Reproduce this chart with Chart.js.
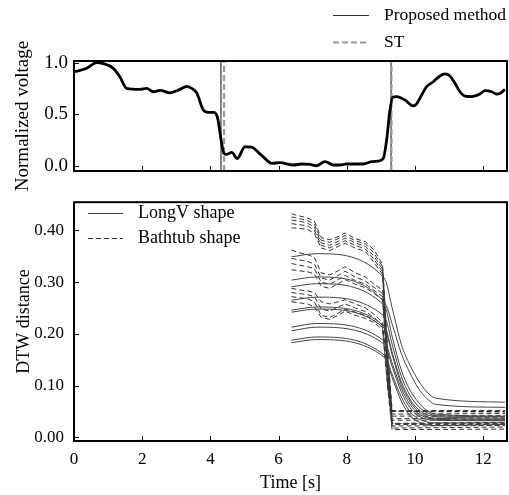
<!DOCTYPE html>
<html>
<head>
<meta charset="utf-8">
<script src="https://cdn.jsdelivr.net/npm/chart.js@4.4.1/dist/chart.umd.min.js"></script>
<style>
  body { margin: 0; background: #fff; }
  canvas { position: absolute; left: 0; }
  #top { top: 0; }
  #bottom { top: 182px; }
</style>
</head>
<body>
<canvas id="top" width="509" height="195"></canvas>
<canvas id="bottom" width="509" height="313"></canvas>
<script>
// ---- data ----
const xTicks = [0, 2, 4, 6, 8, 10, 12];
const yTicksTop = [0, 0.5, 1.0];
const yTicksBottom = [0, 0.1, 0.2, 0.3, 0.4];

const voltTime = [0, 0.372, 0.666, 0.859, 1.152, 1.349, 1.545, 1.935, 2.132, 2.326, 2.522, 2.815, 3.109, 3.305,
  3.452, 3.598, 3.792, 3.938, 4.085, 4.202, 4.331, 4.399, 4.478, 4.625, 4.789, 5.015, 5.211, 5.405, 5.651,
  5.798, 6.041, 6.431, 6.677, 6.921, 7.117, 7.361, 7.604, 7.801, 7.997, 8.484, 8.730, 8.924, 9.070, 9.170,
  9.267, 9.346, 9.463, 9.707, 9.950, 10.050, 10.196, 10.343, 10.537, 10.733, 10.880, 11.026, 11.173, 11.320,
  11.466, 11.663, 11.906, 12.053, 12.249, 12.396, 12.493, 12.639];
const voltage = [0.91, 0.944, 1.0, 0.99, 0.944, 0.86, 0.75, 0.74, 0.75, 0.717, 0.73, 0.707, 0.74, 0.77,
  0.75, 0.707, 0.54, 0.517, 0.517, 0.475, 0.217, 0.12, 0.11, 0.13, 0.07, 0.184, 0.18, 0.13, 0.055,
  0.023, 0.03, 0.007, 0.017, 0.013, 0.0, 0.04, 0.007, 0.007, 0.017, 0.017, 0.04, 0.045, 0.07, 0.25,
  0.54, 0.663, 0.67, 0.637, 0.58, 0.6, 0.685, 0.766, 0.814, 0.87, 0.89, 0.87, 0.8, 0.717,
  0.675, 0.67, 0.695, 0.727, 0.717, 0.695, 0.7, 0.74];

const proposedTimes = [4.31, 9.30];
const stTimes = [4.40, 9.31];

const longVTime = [6.38, 7.12, 9.1, 9.35, 9.6, 9.85, 10.1, 10.35, 10.6, 12.64];
const longVShapes = [
  [0.349, 0.355, 0.308, 0.245, 0.180, 0.140, 0.110, 0.088, 0.076, 0.068],
  [0.304, 0.310, 0.262, 0.215, 0.162, 0.125, 0.095, 0.075, 0.064, 0.058],
  [0.291, 0.297, 0.255, 0.190, 0.130, 0.092, 0.068, 0.052, 0.045, 0.041],
  [0.265, 0.271, 0.234, 0.175, 0.118, 0.082, 0.060, 0.048, 0.042, 0.040],
  [0.246, 0.252, 0.215, 0.160, 0.108, 0.074, 0.054, 0.044, 0.040, 0.037],
  [0.242, 0.248, 0.211, 0.155, 0.102, 0.070, 0.050, 0.040, 0.037, 0.035],
  [0.213, 0.220, 0.186, 0.140, 0.095, 0.064, 0.046, 0.038, 0.035, 0.033],
  [0.206, 0.213, 0.180, 0.133, 0.088, 0.058, 0.042, 0.035, 0.033, 0.032],
  [0.188, 0.194, 0.159, 0.118, 0.078, 0.050, 0.036, 0.030, 0.028, 0.028],
  [0.183, 0.189, 0.155, 0.112, 0.070, 0.042, 0.030, 0.024, 0.023, 0.025]
];

const bathtubTime = [6.38, 6.6, 6.85, 7.05, 7.25, 7.5, 7.75, 7.95, 8.25, 8.55, 8.8, 9.05, 9.2, 9.33, 12.64];
const bathtubShapes = [
  [0.432, 0.428, 0.424, 0.418, 0.386, 0.382, 0.388, 0.395, 0.384, 0.378, 0.362, 0.335, 0.170, 0.052, 0.052],
  [0.426, 0.423, 0.419, 0.412, 0.381, 0.377, 0.384, 0.390, 0.380, 0.374, 0.356, 0.330, 0.160, 0.045, 0.046],
  [0.420, 0.418, 0.414, 0.406, 0.376, 0.371, 0.379, 0.385, 0.376, 0.369, 0.350, 0.325, 0.150, 0.036, 0.038],
  [0.413, 0.411, 0.409, 0.400, 0.371, 0.366, 0.374, 0.380, 0.371, 0.364, 0.344, 0.320, 0.140, 0.027, 0.029],
  [0.405, 0.404, 0.402, 0.394, 0.366, 0.361, 0.369, 0.375, 0.366, 0.359, 0.338, 0.315, 0.130, 0.018, 0.020],
  [0.362, 0.357, 0.353, 0.348, 0.318, 0.314, 0.322, 0.330, 0.318, 0.310, 0.296, 0.285, 0.150, 0.050, 0.050],
  [0.346, 0.343, 0.340, 0.335, 0.308, 0.304, 0.313, 0.321, 0.310, 0.302, 0.290, 0.278, 0.140, 0.041, 0.042],
  [0.336, 0.333, 0.330, 0.326, 0.300, 0.296, 0.305, 0.313, 0.303, 0.296, 0.284, 0.272, 0.130, 0.027, 0.027],
  [0.324, 0.322, 0.320, 0.316, 0.292, 0.288, 0.297, 0.305, 0.296, 0.289, 0.278, 0.266, 0.120, 0.022, 0.023],
  [0.288, 0.285, 0.283, 0.280, 0.262, 0.258, 0.262, 0.266, 0.258, 0.250, 0.238, 0.222, 0.120, 0.050, 0.049],
  [0.280, 0.278, 0.276, 0.272, 0.248, 0.244, 0.252, 0.258, 0.250, 0.243, 0.232, 0.216, 0.110, 0.033, 0.034],
  [0.272, 0.270, 0.268, 0.262, 0.236, 0.232, 0.240, 0.248, 0.242, 0.236, 0.226, 0.212, 0.100, 0.025, 0.025],
  [0.262, 0.260, 0.258, 0.252, 0.232, 0.228, 0.236, 0.244, 0.236, 0.230, 0.222, 0.208, 0.095, 0.015, 0.016]
];

// ---- look ----
const FONT = "'Liberation Serif', 'Times New Roman', serif";
const xMin = 0, xMax = 12.7;
const topYMin = -0.051, topYMax = 1.015;
const botYMin = -0.007, botYMax = 0.4545;

const toPoints = (xs, ys) => xs.map((x, i) => ({ x, y: ys[i] }));

// frame around plot area + inward tick marks
const framePlugin = {
  id: 'frame',
  afterDatasetsDraw(chart) {
    const { ctx, chartArea: a, scales } = chart;
    ctx.save();
    ctx.strokeStyle = '#000';
    ctx.lineWidth = 1;
    ctx.beginPath();
    scales.x.ticks.forEach(t => {
      const px = Math.round(scales.x.getPixelForValue(t.value)) + 0.5;
      ctx.moveTo(px, a.bottom);
      ctx.lineTo(px, a.bottom - 5);
    });
    scales.y.ticks.forEach(t => {
      const py = Math.round(scales.y.getPixelForValue(t.value)) + 0.5;
      ctx.moveTo(a.left, py);
      ctx.lineTo(a.left + 5, py);
    });
    ctx.stroke();
    ctx.lineWidth = 2;
    ctx.strokeRect(a.left, a.top, a.right - a.left, a.bottom - a.top);
    ctx.restore();
  }
};

// simple stacked legend with line samples
const lineLegend = {
  id: 'lineLegend',
  afterDraw(chart, args, opts) {
    const ctx = chart.ctx;
    const items = chart.data.datasets.filter(d => d.showInLegend);
    ctx.save();
    ctx.font = opts.font;
    ctx.textBaseline = 'middle';
    ctx.fillStyle = '#000';
    items.forEach((d, i) => {
      const y = opts.y + i * opts.rowHeight + 0.5;
      ctx.strokeStyle = d.borderColor;
      ctx.lineWidth = d.borderWidth;
      ctx.setLineDash(d.borderDash || []);
      ctx.beginPath();
      ctx.moveTo(opts.x, y);
      ctx.lineTo(opts.x + opts.sampleWidth, y);
      ctx.stroke();
      ctx.setLineDash([]);
      ctx.fillText(d.label, opts.x + opts.sampleWidth + opts.gap, y);
    });
    ctx.restore();
  }
};

function fixedTicks(values) {
  return scale => { scale.ticks = values.map(v => ({ value: v })); };
}

// ---- top panel ----
const topDatasets = [
  {
    label: 'voltage',
    data: toPoints(voltTime, voltage),
    borderColor: '#000',
    borderWidth: 2.8,
    cubicInterpolationMode: 'monotone',
    order: 0
  },
  ...proposedTimes.map((t, i) => ({
    label: 'Proposed method',
    showInLegend: i === 0,
    data: [{ x: t, y: topYMin }, { x: t, y: topYMax }],
    borderColor: '#333',
    borderWidth: 1.2,
    order: 2
  })),
  ...stTimes.map((t, i) => ({
    label: 'ST',
    showInLegend: i === 0,
    data: [{ x: t, y: topYMin }, { x: t, y: topYMax }],
    borderColor: '#999',
    borderWidth: 2.2,
    borderDash: [6, 3],
    order: 1
  }))
];

new Chart(document.getElementById('top').getContext('2d'), {
  type: 'line',
  data: { datasets: topDatasets },
  options: {
    responsive: false,
    animation: false,
    devicePixelRatio: 1,
    layout: { padding: { top: 61, right: 2, left: 0, bottom: 0 } },
    elements: { point: { radius: 0 } },
    plugins: {
      legend: { display: false },
      tooltip: { enabled: false },
      lineLegend: { x: 333, y: 15, rowHeight: 27, sampleWidth: 36, gap: 15, font: '17.5px ' + FONT }
    },
    scales: {
      x: {
        type: 'linear', min: xMin, max: xMax,
        afterBuildTicks: fixedTicks(xTicks),
        afterFit: s => { s.height = 24; },
        ticks: { display: false },
        grid: { display: false, drawTicks: false },
        border: { display: false }
      },
      y: {
        min: topYMin, max: topYMax,
        afterBuildTicks: fixedTicks(yTicksTop),
        afterFit: s => { s.width = 74; },
        ticks: { color: '#000', font: { family: FONT, size: 19 }, padding: 6, callback: v => v.toFixed(1) },
        grid: { display: false, drawTicks: false },
        border: { display: false },
        title: { display: true, text: 'Normalized voltage', color: '#000', font: { family: FONT, size: 19 }, padding: { top: 12, bottom: 0 } }
      }
    }
  },
  plugins: [framePlugin, lineLegend]
});

// ---- bottom panel ----
const bottomDatasets = [
  ...longVShapes.map((vals, i) => ({
    label: 'LongV shape',
    showInLegend: i === 0,
    data: toPoints(longVTime, vals),
    borderColor: '#444',
    borderWidth: 1,
    cubicInterpolationMode: 'monotone'
  })),
  ...bathtubShapes.map((vals, i) => ({
    label: 'Bathtub shape',
    showInLegend: i === 0,
    data: toPoints(bathtubTime, vals),
    borderColor: '#333',
    borderWidth: 1,
    borderDash: [5, 3]
  }))
];

new Chart(document.getElementById('bottom').getContext('2d'), {
  type: 'line',
  data: { datasets: bottomDatasets },
  options: {
    responsive: false,
    animation: false,
    devicePixelRatio: 1,
    layout: { padding: { top: 11, right: 2, left: 0, bottom: 0 } },
    elements: { point: { radius: 0 } },
    plugins: {
      legend: { display: false },
      tooltip: { enabled: false },
      lineLegend: { x: 88, y: 31, rowHeight: 25, sampleWidth: 35, gap: 15, font: '18px ' + FONT }
    },
    scales: {
      x: {
        type: 'linear', min: xMin, max: xMax,
        afterBuildTicks: fixedTicks(xTicks),
        afterFit: s => { s.height = 54; },
        ticks: { color: '#000', font: { family: FONT, size: 17 }, padding: 8, maxRotation: 0, callback: v => String(v) },
        grid: { display: false, drawTicks: false },
        border: { display: false },
        title: { display: true, text: 'Time [s]', color: '#000', font: { family: FONT, size: 18 }, padding: { top: 0, bottom: 1 } }
      },
      y: {
        min: botYMin, max: botYMax,
        afterBuildTicks: fixedTicks(yTicksBottom),
        afterFit: s => { s.width = 74; },
        ticks: { color: '#000', font: { family: FONT, size: 17 }, padding: 10, callback: v => v.toFixed(2) },
        grid: { display: false, drawTicks: false },
        border: { display: false },
        title: { display: true, text: 'DTW distance', color: '#000', font: { family: FONT, size: 18 }, padding: { top: 13, bottom: 0 } }
      }
    }
  },
  plugins: [framePlugin, lineLegend]
});
</script>
</body>
</html>
